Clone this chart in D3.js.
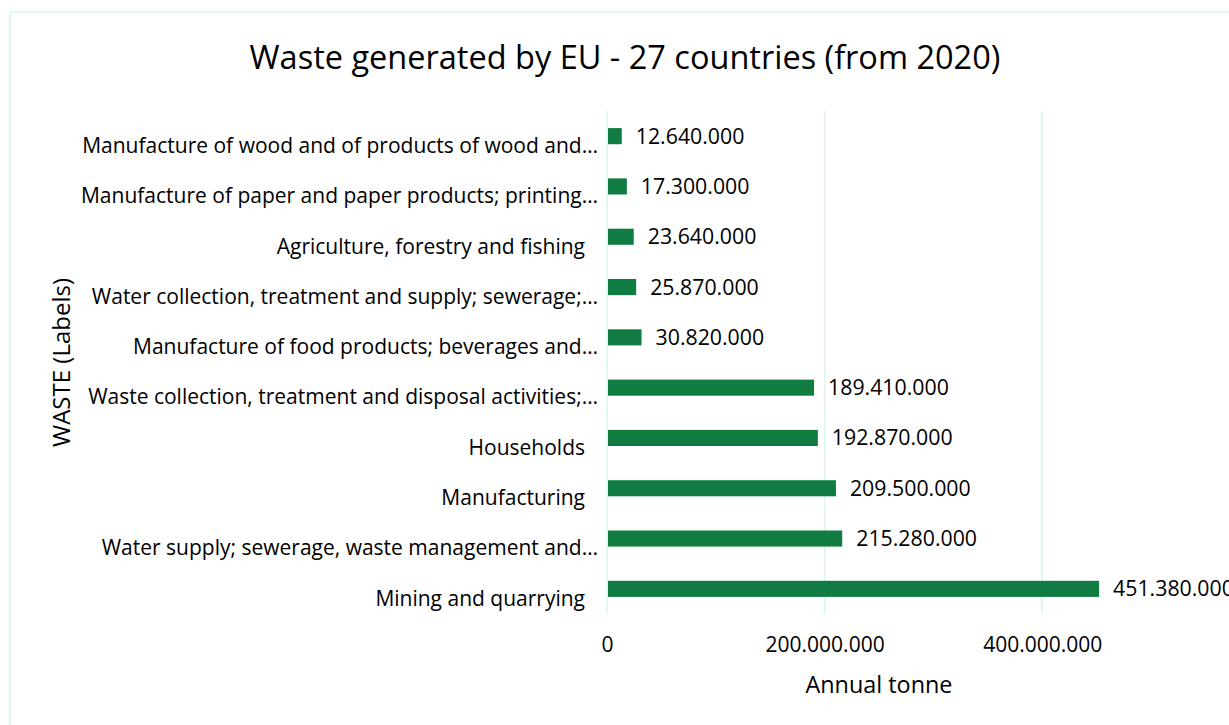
<!DOCTYPE html>
<html>
<head>
<meta charset="utf-8">
<script src="https://cdn.jsdelivr.net/npm/d3@7"></script>
<style>
  html, body { margin: 0; padding: 0; background: #fff; overflow: hidden; }
  svg { display: block; }
</style>
</head>
<body>
<div id="chart"></div>
<script>
// chart data
const categories = [
  "Manufacture of wood and of products of wood and…",
  "Manufacture of paper and paper products; printing…",
  "Agriculture, forestry and fishing",
  "Water collection, treatment and supply; sewerage;…",
  "Manufacture of food products; beverages and…",
  "Waste collection, treatment and disposal activities;…",
  "Households",
  "Manufacturing",
  "Water supply; sewerage, waste management and…",
  "Mining and quarrying"
];
const tonnes = [12640000, 17300000, 23640000, 25870000, 30820000,
                189410000, 192870000, 209500000, 215280000, 451380000];
const xTicks = [0, 200000000, 400000000];
const xMax = 500000000;

const width = 1229, height = 725;
const margin = {top: 111, right: 78, bottom: 111, left: 607};
const font = "'Open Sans', sans-serif";
const gridColor = "#d9f5ee";
const barColor = "#107c41";

const locale = d3.formatLocale({decimal: ",", thousands: ".", grouping: [3], currency: ["", ""]});
const fmt = locale.format(",d");

const svg = d3.select("#chart").append("svg")
    .attr("width", width)
    .attr("height", height);

svg.append("rect")
    .attr("width", width)
    .attr("height", height)
    .attr("fill", "#fff");

// chart frame (runs off the right and bottom edge)
svg.append("rect")
    .attr("x", 10)
    .attr("y", 12)
    .attr("width", width + 20)
    .attr("height", height + 20)
    .attr("fill", "none")
    .attr("stroke", gridColor)
    .attr("stroke-width", 1.5);

const x = d3.scaleLinear()
    .domain([0, xMax])
    .range([margin.left, width - margin.right]);

const y = d3.scaleBand()
    .domain(categories)
    .range([margin.top, height - margin.bottom])
    .paddingInner(0.68)
    .paddingOuter(0.34);

// gridlines
svg.append("g")
    .selectAll("line")
    .data(xTicks)
    .join("line")
      .attr("x1", d => x(d))
      .attr("x2", d => x(d))
      .attr("y1", margin.top)
      .attr("y2", height - margin.bottom)
      .attr("stroke", gridColor)
      .attr("stroke-width", 1.5);

// x axis labels
const xAxis = g => g
    .attr("transform", `translate(0,${height - margin.bottom + 31})`)
    .call(d3.axisBottom(x).tickValues(xTicks).tickFormat(fmt).tickSize(0).tickPadding(0))
    .call(g => g.select(".domain").remove())
    .call(g => g.selectAll("text")
        .attr("dy", "0.35em")
        .attr("fill", "#000")
        .style("font", `21px ${font}`));

svg.append("g").call(xAxis);

// y axis labels (truncated ones let the ellipsis hang past the edge, like Excel)
const yAxis = g => g
    .attr("transform", `translate(${margin.left - 22},0)`)
    .call(d3.axisLeft(y).tickSize(0).tickPadding(0))
    .call(g => g.select(".domain").remove())
    .call(g => g.selectAll("text")
        .attr("dy", "0.8em")
        .attr("x", d => d.endsWith("…") ? 13 : 0)
        .attr("fill", "#000")
        .style("font", `21px ${font}`));

svg.append("g").call(yAxis);

// bars
svg.append("g")
    .selectAll("rect")
    .data(tonnes)
    .join("rect")
      .attr("x", x(0) + 1)
      .attr("y", (d, i) => y(categories[i]))
      .attr("width", d => x(d) - x(0))
      .attr("height", y.bandwidth())
      .attr("fill", barColor);

// value labels
svg.append("g")
    .selectAll("text")
    .data(tonnes)
    .join("text")
      .attr("x", d => x(d) + 15)
      .attr("y", (d, i) => y(categories[i]) + y.bandwidth() / 2)
      .attr("dy", "0.35em")
      .style("font", `21.3px ${font}`)
      .attr("fill", "#000")
      .text(d => fmt(d));

// title
svg.append("text")
    .attr("x", 625)
    .attr("y", 58)
    .attr("dy", "0.35em")
    .attr("text-anchor", "middle")
    .style("font", `32.5px ${font}`)
    .attr("fill", "#000")
    .text("Waste generated by EU - 27 countries (from 2020)");

// axis titles
svg.append("text")
    .attr("x", (x.range()[0] + x.range()[1]) / 2)
    .attr("y", 685)
    .attr("dy", "0.35em")
    .attr("text-anchor", "middle")
    .style("font", `23.4px ${font}`)
    .attr("fill", "#000")
    .text("Annual tonne");

svg.append("text")
    .attr("transform", `translate(62,${(margin.top + height - margin.bottom) / 2}) rotate(-90)`)
    .attr("dy", "0.35em")
    .attr("text-anchor", "middle")
    .style("font", `24px ${font}`)
    .attr("fill", "#000")
    .text("WASTE (Labels)");
</script>
</body>
</html>
